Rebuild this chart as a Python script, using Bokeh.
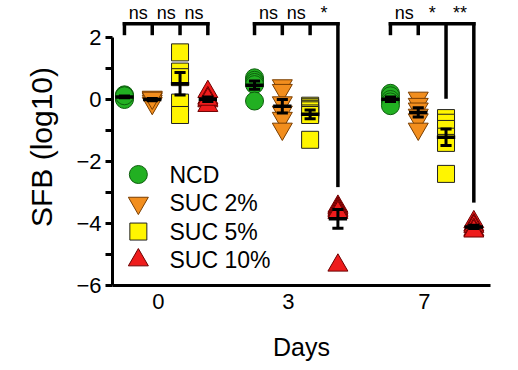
import numpy as np
from bokeh.plotting import figure
from bokeh.models import FixedTicker, Range1d
from bokeh.embed import file_html
from bokeh.resources import INLINE
from bokeh.core.properties import value

# ---------------- data ----------------
days = ["0", "3", "7"]
groups = ["NCD", "SUC 2%", "SUC 5%", "SUC 10%"]

ncd = [
    [0.15, 0.10, 0.05, 0.00, 0.12],
    [0.70, 0.62, 0.55, 0.48, -0.05],
    [0.20, 0.12, 0.00, -0.08, -0.20],
]
suc2 = [
    [0.08, 0.02, -0.05, -0.12, 0.05],
    [0.45, 0.30, -0.10, -0.40, -0.60, -0.95],
    [0.05, -0.15, -0.30, -0.50, -0.65, -0.95],
]
suc5 = [
    [1.52, 0.90, 0.72, -0.10, -0.50],
    [-0.20, -0.25, -0.30, -0.35, -0.45, -0.50, -1.30],
    [-0.60, -0.75, -0.95, -1.20, -1.40, -2.40],
]
suc10 = [
    [0.25, 0.05, -0.05, -0.20, 0.00],
    [-3.45, -3.50, -3.55, -3.60, -3.65, -5.35],
    [-3.95, -4.05, -4.10, -4.20, -4.25],
]
sig_labels = [
    ["ns", "ns", "ns"],
    ["ns", "ns", "*"],
    ["ns", "*", "**"],
]
y_ticks = [-6, -4, -2, 0, 2]
y_minor = [-5, -3, -1, 1]

series = [ncd, suc2, suc5, suc10]
markers = ["circle", "inverted_triangle", "square", "triangle"]
fills = ["#22B022", "#F28E1E", "#FFF500", "#EE1C1C"]
outlines = ["#0E5E0E", "#7A3E00", "#222222", "#6E0000"]
sizes = [18, 20, 17, 20]

# ---------------- layout ----------------
GROUP_X = [0.0, 4.68, 9.57]
FONT_NAME = "Liberation Sans"
FONT = value(FONT_NAME)

p = figure(frame_width=378, frame_height=277,
           x_range=Range1d(-0.43, 13.17), y_range=Range1d(-6, 2.935),
           output_backend="svg", toolbar_location=None,
           min_border_left=112, min_border_right=10,
           min_border_top=8, min_border_bottom=78)
p.grid.visible = False
p.outline_line_color = None
p.background_fill_color = "white"
p.border_fill_color = "white"

# y axis
ya = p.yaxis[0]
ya.ticker = FixedTicker(ticks=y_ticks, minor_ticks=y_minor)
ya.bounds = (-6, 2)
ya.axis_line_width = 3
ya.major_tick_line_width = 3
ya.minor_tick_line_width = 3
ya.major_tick_out = 7
ya.major_tick_in = 0
ya.minor_tick_out = 7
ya.minor_tick_in = 0
ya.major_label_text_font = FONT_NAME
ya.major_label_text_font_size = "22px"
ya.major_label_text_color = "black"
ya.major_label_standoff = 4
ya.axis_label = "SFB (log10)"
ya.axis_label_text_font = FONT_NAME
ya.axis_label_text_font_size = "30px"
ya.axis_label_text_font_style = "normal"
ya.axis_label_text_color = "black"
ya.axis_label_standoff = 15

# x axis
xa = p.xaxis[0]
tick_pos = [g + 1.22 for g in GROUP_X]
xa.ticker = FixedTicker(ticks=tick_pos, minor_ticks=[])
xa.major_label_overrides = {t: d for t, d in zip(tick_pos, days)}
xa.axis_line_width = 3
xa.major_tick_out = 0
xa.major_tick_in = 0
xa.minor_tick_out = 0
xa.minor_tick_in = 0
xa.major_label_text_font = FONT_NAME
xa.major_label_text_font_size = "22px"
xa.major_label_text_color = "black"
xa.major_label_standoff = 8
xa.axis_label = "Days"
xa.axis_label_text_font = FONT_NAME
xa.axis_label_text_font_size = "25px"
xa.axis_label_text_font_style = "normal"
xa.axis_label_text_color = "black"
xa.axis_label_standoff = 21

# points
for k, ser in enumerate(series):
    xs, ys = [], []
    for d, vals in enumerate(ser):
        xs += [GROUP_X[d] + k] * len(vals)
        ys += list(vals)
    p.scatter(x=xs, y=ys, marker=markers[k], size=sizes[k],
              fill_color=fills[k], line_color=outlines[k], line_width=1)

# mean +/- SEM
mx0, mx1, my = [], [], []
ex, ey0, ey1 = [], [], []
cx0, cx1, cy = [], [], []
for k, ser in enumerate(series):
    for d, vals in enumerate(ser):
        v = np.array(vals)
        m = v.mean()
        s = v.std(ddof=1) / np.sqrt(len(v))
        x = GROUP_X[d] + k
        mx0.append(x - 0.33); mx1.append(x + 0.33); my.append(m)
        ex.append(x); ey0.append(m - s); ey1.append(m + s)
        for yy in (m - s, m + s):
            cx0.append(x - 0.2); cx1.append(x + 0.2); cy.append(yy)
p.segment(x0=mx0, y0=my, x1=mx1, y1=my, line_color="black", line_width=3.5)
p.segment(x0=ex, y0=ey0, x1=ex, y1=ey1, line_color="black", line_width=3)
p.segment(x0=cx0, y0=cy, x1=cx1, y1=cy, line_color="black", line_width=3)

# significance brackets
BR_Y = 2.44
LEG_SHORT = 2.13
bx0, by0, bx1, by1 = [], [], [], []
tx, ty, tt = [], [], []
for d in range(3):
    g = GROUP_X[d]
    bx0.append(g); bx1.append(g + 3); by0.append(BR_Y); by1.append(BR_Y)
    for i in range(4):
        if i == 0 or sig_labels[d][i - 1] == "ns":
            bottom = LEG_SHORT
        else:
            bottom = max(series[i][d]) + 0.68
        bx0.append(g + i); bx1.append(g + i); by0.append(BR_Y); by1.append(bottom)
    for i, lab in enumerate(sig_labels[d]):
        tx.append(g + i + 0.5); ty.append(2.78); tt.append(lab)
p.segment(x0=bx0, y0=by0, x1=bx1, y1=by1, line_color="black", line_width=3.5,
          line_cap="square", level="overlay")
p.text(x=tx, y=ty, text=tt, text_font=FONT, text_font_size="18px",
       text_align="center", text_baseline="alphabetic", text_color="black",
       level="overlay")

# legend (manual, to keep marker sizes)
LEG_X = 0.5
LEG_TX = 1.62
LEG_Y0 = -2.42
LEG_DY = 0.92
for k in range(4):
    yk = LEG_Y0 - k * LEG_DY
    p.scatter(x=[LEG_X], y=[yk], marker=markers[k], size=sizes[k],
              fill_color=fills[k], line_color=outlines[k], line_width=1)
    p.text(x=[LEG_TX], y=[yk], text=[groups[k]], text_font=FONT,
           text_font_size="23px", text_align="left", text_baseline="middle",
           text_color="black")

open("out.html", "w").write(file_html(p, INLINE))
